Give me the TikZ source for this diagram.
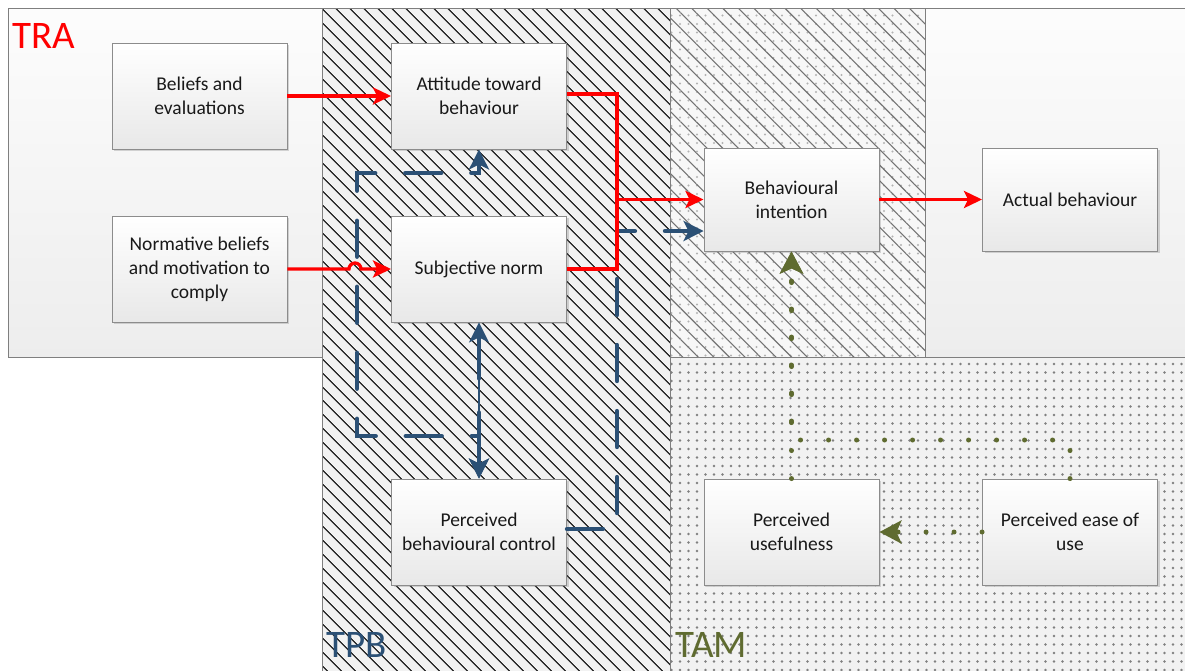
\documentclass[tikz,border=0pt]{standalone}
\usepackage{fontspec}
\setmainfont{Carlito}
\usetikzlibrary{patterns.meta,arrows.meta,shadows}
\definecolor{tpbblue}{HTML}{2B5075}
\definecolor{tamolive}{HTML}{5F6B30}
\definecolor{regionline}{HTML}{7F7F7F}
\definecolor{boxline}{HTML}{8C8C8C}
\tikzset{
  box/.style={draw=boxline, line width=0.9pt, top color=white, bottom color=black!9,
    minimum width=175pt, minimum height=106pt, align=center, text=black!90,
    font=\fontsize{19.5}{24}\selectfont,
    drop shadow={shadow xshift=2pt, shadow yshift=-2pt, opacity=0.25, fill=black!60}},
  redline/.style={draw=red, line width=3.3pt},
  redarrow/.style={redline, -{Stealth[length=18pt,width=17pt,inset=4pt]}},
  blueline/.style={draw=tpbblue, line width=4.3pt, line cap=round, dash pattern=on 36pt off 30pt},
  bluetip/.tip={Stealth[length=20pt,width=20pt,inset=5pt]},
  greenline/.style={draw=tamolive, line width=5pt, line cap=round, dash pattern=on 0pt off 28pt},
  greentip/.tip={Stealth[length=22pt,width=23pt,inset=5pt]},
  region/.style={draw=regionline, line width=1pt},
  biglabel/.style={font=\fontsize{39}{42}\selectfont, anchor=base west, inner sep=0pt}
}
\begin{document}
\begin{tikzpicture}[x=1pt,y=-1pt]
\useasboundingbox (0,0) rectangle (1185,670);
\fill[white] (0,0) rectangle (1185,670);
\begin{scope}
\clip (0,0) rectangle (1185,670);
% TRA region
\shade[top color=black!1, bottom color=black!7] (8,8) rectangle (1195,357);
\draw[region] (8,8) rectangle (1195,357);
% TPB region
\fill[black!5] (322,8) rectangle (670,680);
\fill[pattern={Lines[angle=-45,distance=10.5pt,line width=1.4pt]}, pattern color=black!80] (322,8) rectangle (670,680);
\draw[region] (322,8) rectangle (670,680);
% TAM region
\fill[black!5] (670,357) rectangle (1195,680);
\fill[pattern={Dots[distance=8.5pt,radius=1.3pt]}, pattern color=black!50] (670,357) rectangle (1195,680);
\draw[region] (670,357) rectangle (1195,680);
% overlap region
\fill[black!3] (670,8) rectangle (925,357);
\fill[pattern={Dots[distance=8.5pt,radius=1.2pt]}, pattern color=black!30] (670,8) rectangle (925,357);
\fill[pattern={Lines[angle=-45,distance=11pt,line width=1.1pt]}, pattern color=black!55] (670,8) rectangle (925,357);
\draw[region] (670,8) rectangle (925,357);
\draw[region] (8,8) -- (1195,8);
\end{scope}

% labels
\node[biglabel, text=red] (tra) at (12,48) {TRA};
\node[biglabel, text=tpbblue] (tpb) at (326,657) {TPB};
\node[biglabel, text=tamolive] (tam) at (675,657) {TAM};

% boxes
\node[box] (be) at (199.5,96) {Beliefs and\\evaluations};
\node[box] (nb) at (199.5,269) {Normative beliefs\\and motivation to\\comply};
\node[box] (att) at (479,96) {Attitude toward\\behaviour};
\node[box] (sn) at (479,269) {Subjective norm};
\node[box] (pbc) at (479,532) {Perceived\\behavioural control};
\node[box, minimum height=103pt] (bi) at (791.5,199.5) {Behavioural\\intention};
\node[box, minimum height=103pt] (ab) at (1070,199.5) {Actual behaviour};
\node[box] (pu) at (791.5,532) {Perceived\\usefulness};
\node[box] (peou) at (1070,532) {Perceived ease of\\use};

% coordinates for elbows
\coordinate (r1) at (617,94);
\coordinate (r2) at (617,269);
\coordinate (rj) at (617,199.5);
\coordinate (b1) at (617,529);
\coordinate (b2) at (617,231);
\coordinate (l1) at (479,436);
\coordinate (l2) at (357,436);
\coordinate (l3) at (357,173);
\coordinate (l4) at (479,173);
\coordinate (g1) at (1070,440);
\coordinate (g2) at (791.5,440);

% blue dashed connectors
\draw[blueline, -bluetip] (pbc.east |- b1) -- (b1) -- (b2) -- (bi.west |- b2);
\draw[blueline, bluetip-bluetip] (pbc.north) -- (l1) -- (l2) -- (l3) -- (l4) -- (att.south);
\draw[draw=tpbblue, line width=1.6pt, bluetip-bluetip] (sn.south) -- (pbc.north);
\draw[blueline, dash pattern=on 40pt off 34pt, dash phase=-4pt, shorten <=12pt, shorten >=20pt] (sn.south) -- (pbc.north);

% red connectors
\draw[redarrow] (be.east) -- (att.west);
\draw[redarrow] (nb.east) -- (349,269) arc (180:360:6) -- (sn.west);
\draw[redline] (att.east |- r1) -- (r1) -- (rj);
\draw[redline] (sn.east) -- (r2) -- (rj);
\draw[redarrow] (rj) -- (bi.west |- rj);
\draw[redarrow] (bi.east) -- (ab.west);

% green dotted connectors
\draw[greenline, -greentip] (pu.north) -- (bi.south);
\draw[greenline, -greentip] (peou.north) -- (g1) -- (g2) -- (bi.south);
\draw[greenline, -greentip] (peou.west) -- (pu.east);
\end{tikzpicture}
\end{document}
